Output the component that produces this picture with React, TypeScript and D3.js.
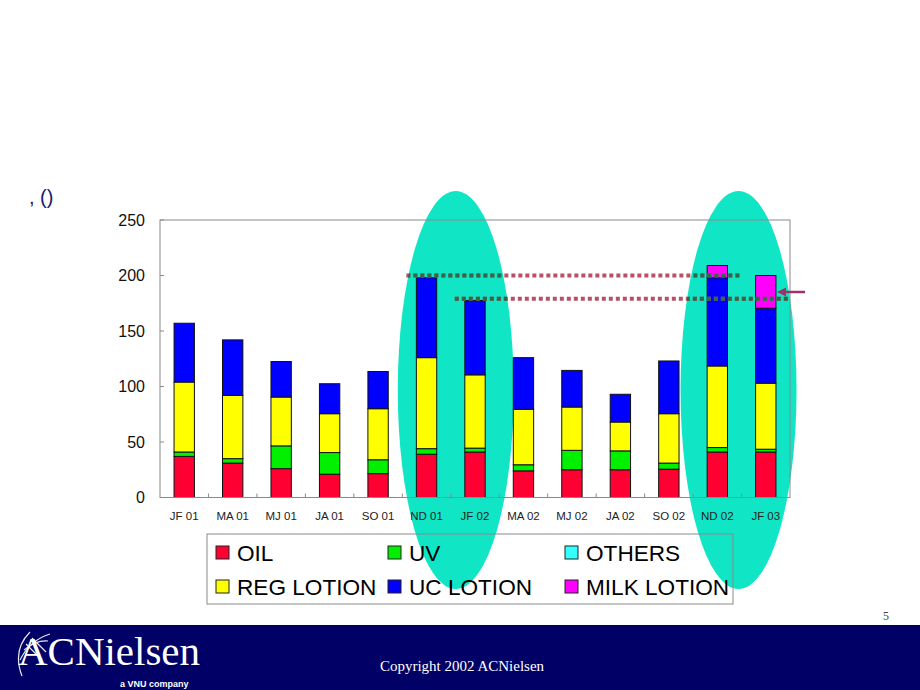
import React from "react";
import * as d3 from "d3";

const categories = ["JF 01", "MA 01", "MJ 01", "JA 01", "SO 01", "ND 01", "JF 02", "MA 02", "MJ 02", "JA 02", "SO 02", "ND 02", "JF 03"];
const oil = [37, 31, 26, 21, 21.5, 39, 41, 24, 25, 25, 25.5, 41, 41];
const uv = [4, 4, 20.5, 19.5, 12.5, 5, 3.5, 5.5, 17.5, 17, 5.5, 4, 2.5];
const others = [0, 0, 0, 0, 0, 0, 0, 0, 0, 0, 0, 0, 0];
const regLotion = [63, 57, 44, 35, 46, 82, 66, 50, 39, 26, 44.5, 73.5, 59.5];
const ucLotion = [53, 50, 32, 27, 33.5, 72, 67, 46.5, 33, 25, 47.5, 79.5, 67.5];
const milkLotion = [0, 0, 0, 0, 0, 0, 0, 0, 0, 0, 0, 11, 29.5];
const yTicks = [0, 50, 100, 150, 200, 250];

const seriesNames = ["OIL", "UV", "OTHERS", "REG LOTION", "UC LOTION", "MILK LOTION"];
const seriesColors = ["#FF0033", "#00F000", "#33FFFF", "#FFFF00", "#0000FF", "#FF00FF"];
const seriesValues = [oil, uv, others, regLotion, ucLotion, milkLotion];
const legendOrder = ["OIL", "UV", "OTHERS", "REG LOTION", "UC LOTION", "MILK LOTION"];

// annotation reference levels
const guideValues = [200, 179];
const guideFrom = ["ND 01", "JF 02"];
const guideTo = ["ND 02", "JF 03"];
const highlightPairs = [["ND 01", "JF 02"], ["ND 02", "JF 03"]];
const highlightShift = [5, -3];

export default function App() {
  const left = 160, right = 790, top = 220, bottom = 497.5;
  const x = d3.scaleBand<string>().domain(categories).range([left, right]).paddingInner(0.58).paddingOuter(0.29);
  const y = d3.scaleLinear().domain([0, 250]).range([bottom, top]);
  const step = x.step();
  const bw = x.bandwidth();

  const table = categories.map((c, i) => {
    const row: any = { cat: c };
    seriesNames.forEach((s, j) => (row[s] = seriesValues[j][i]));
    return row;
  });
  const stacked = d3.stack<any>().keys(seriesNames)(table);

  const ellipses = highlightPairs.map(([a, b], i) => {
    const cx = ((x(a) as number) + (x(b) as number) + bw) / 2 + highlightShift[i];
    return { cx, cy: 390, rx: 58, ry: 199 };
  });

  const guides = guideValues.map((v, i) => ({
    y: y(v),
    x1: (x(guideFrom[i]) as number) - 10,
    x2: (x(guideTo[i]) as number) + bw + 13,
  }));

  const legendCols = [216, 388, 565];
  const legendRows = [553, 587];

  return (
    <div style={{ position: "absolute", left: 0, top: 0 }}>
      <svg width={920} height={690} style={{ display: "block", fontFamily: "Liberation Sans, Arial, sans-serif" }}>
        <defs>
          <clipPath id="ellClip">
            {ellipses.map((e, i) => (
              <ellipse key={i} cx={e.cx} cy={e.cy} rx={e.rx} ry={e.ry} />
            ))}
          </clipPath>
        </defs>
        <rect x={0} y={0} width={920} height={690} fill="#ffffff" />

        {/* title */}
        <text x={29} y={204} fontSize={20} fill="#1a1a70">, ()</text>

        {/* highlight ellipses */}
        {ellipses.map((e, i) => (
          <ellipse key={i} cx={e.cx} cy={e.cy} rx={e.rx} ry={e.ry} fill="#10E6C6" />
        ))}

        {/* plot frame */}
        <rect x={left} y={top} width={right - left} height={bottom - top} fill="none" stroke="#8a8a8a" strokeWidth={1} />

        {/* y ticks */}
        {yTicks.map((t) => (
          <g key={t}>
            <line x1={left} x2={left + 4} y1={y(t)} y2={y(t)} stroke="#8a8a8a" />
            <text x={145} y={y(t)} fontSize={16} textAnchor="end" dominantBaseline="central" fill="#111">{t}</text>
          </g>
        ))}

        {/* x ticks */}
        {categories.map((c, i) => (
          <g key={c}>
            {i > 0 && <line x1={left + i * step} x2={left + i * step} y1={bottom} y2={bottom - 4} stroke="#8a8a8a" />}
            <text x={(x(c) as number) + bw / 2} y={516} fontSize={11.5} textAnchor="middle" dominantBaseline="central" fill="#222">{c}</text>
          </g>
        ))}

        {/* bars */}
        {stacked.map((layer, j) => (
          <g key={layer.key} fill={seriesColors[j]}>
            {layer.map((d, i) =>
              d[1] - d[0] > 0 ? (
                <rect key={i} x={x(categories[i])} y={y(d[1])} width={bw} height={y(d[0]) - y(d[1])} stroke="#111" strokeWidth={1} />
              ) : null
            )}
          </g>
        ))}

        {/* baseline */}
        <line x1={left} x2={right} y1={bottom} y2={bottom} stroke="#8a8a8a" />

        {/* guide dotted lines */}
        {guides.map((g, i) => (
          <line key={"r" + i} x1={g.x1} x2={g.x2} y1={g.y} y2={g.y} stroke="#B8506A" strokeWidth={4} strokeDasharray="4 3" />
        ))}
        <g clipPath="url(#ellClip)">
          {guides.map((g, i) => (
            <line key={"g" + i} x1={g.x1} x2={g.x2} y1={g.y} y2={g.y} stroke="#2E6A48" strokeWidth={4} strokeDasharray="4 3" />
          ))}
        </g>

        {/* arrow */}
        <line x1={805} x2={782} y1={292} y2={292} stroke="#A0306A" strokeWidth={2.5} />
        <path d="M777,292 L786,287.5 L786,296.5 Z" fill="#A0306A" />

        {/* legend */}
        <rect x={207} y={534} width={526} height={70} fill="none" stroke="#8a8a8a" />
        {legendOrder.map((name, k) => {
          const col = k % 3, row = Math.floor(k / 3);
          const j = seriesNames.indexOf(name);
          const lx = legendCols[col], ly = legendRows[row];
          return (
            <g key={name}>
              <rect x={lx} y={ly - 7} width={13} height={13} fill={seriesColors[j]} stroke="#222" strokeWidth={1} />
              <text x={lx + 21} y={ly} fontSize={22.6} dominantBaseline="central" fill="#000">{name}</text>
            </g>
          );
        })}

        {/* page number */}
        <text x={883} y={620} fontSize={12} fontFamily="Liberation Serif, Times New Roman, serif" fill="#444">5</text>

        {/* footer */}
        <rect x={0} y={625} width={920} height={65} fill="#000066" />
        <g stroke="#ffffff" fill="none" strokeWidth={1.2} opacity={0.9}>
          <path d="M30,632 Q12,650 22,676" />
          <path d="M20,660 Q30,640 50,634" />
          <path d="M24,650 Q36,640 48,641" />
          <path d="M26,644 L42,660" />
          <path d="M32,638 L46,652" />
        </g>
        <text x={18} y={665} fontSize={41} fontFamily="Liberation Serif, Times New Roman, serif" fill="#ffffff" textLength={182} lengthAdjust="spacingAndGlyphs">ACNielsen</text>
        <text x={120} y={687} fontSize={9} fontWeight="bold" fill="#ffffff">a VNU company</text>
        <text x={462} y={671} fontSize={15} textAnchor="middle" fontFamily="Liberation Serif, Times New Roman, serif" fill="#ffffff">Copyright 2002 ACNielsen</text>
      </svg>
    </div>
  );
}
